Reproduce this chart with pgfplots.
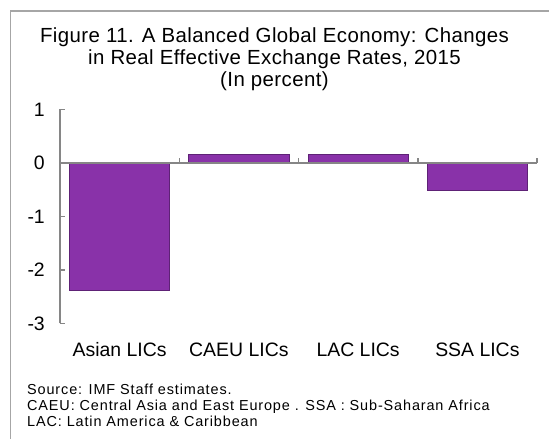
\documentclass[border=0pt]{standalone}
\usepackage{pgfplots}
\pgfplotsset{compat=1.18}
\usepackage{fontspec}
\setmainfont{Liberation Sans}
\newfontfamily\titlefont[LetterSpace=2]{Liberation Sans}
\newfontfamily\notefont[LetterSpace=6]{Liberation Sans}
\definecolor{barpurple}{HTML}{8932A9}
\definecolor{bardark}{HTML}{5E2276}
\definecolor{axgray}{HTML}{868686}
\definecolor{framegray}{HTML}{A6A6A6}
\begin{document}
\begin{tikzpicture}[x=1bp,y=1bp]
\useasboundingbox (0,0) rectangle (549,439);
\draw[framegray, line width=1.5bp] (10.5,-2) -- (10.5,428) -- (551,428);
\node[anchor=base] at (274.5,396) {\titlefont\fontsize{20.5}{20.5}\selectfont Figure 11. A Balanced Global Economy: Changes};
\node[anchor=base] at (274.5,374) {\titlefont\fontsize{20.5}{20.5}\selectfont in Real Effective Exchange Rates, 2015};
\node[anchor=base] at (274.5,352) {\titlefont\fontsize{20.5}{20.5}\selectfont (In percent)};
\node[anchor=base west, inner sep=0pt] at (27,44) {\notefont\fontsize{14.5}{14.5}\selectfont Source: IMF Staff estimates.};
\node[anchor=base west, inner sep=0pt] at (27,28) {\notefont\fontsize{14.5}{14.5}\selectfont CAEU: Central Asia and East Europe . SSA : Sub-Saharan  Africa};
\node[anchor=base west, inner sep=0pt] at (27,12) {\notefont\fontsize{14.5}{14.5}\selectfont LAC: Latin America \& Caribbean};
\begin{axis}[
  at={(60bp,115.5bp)}, anchor=south west,
  scale only axis, width=477bp, height=214bp,
  xmin=-0.5, xmax=3.5, ymin=-3, ymax=1,
  ytick={-3,-2,-1,0,1},
  xtick={0,1,2,3},
  xticklabels={Asian LICs, CAEU LICs, LAC LICs, SSA LICs},
  axis y line*=left, axis x line*=bottom,
  x axis line style={draw=none},
  y axis line style={axgray, line width=1.5bp},
  tick align=inside, major tick length=5bp,
  ytick style={axgray, line width=1.5bp},
  xtick style={draw=none},
  /pgf/number format/assume math mode=true,
  yticklabel style={anchor=east, inner sep=0pt, xshift=-15bp, font=\fontsize{19.5}{19.5}\selectfont},
  xticklabel style={anchor=base, inner sep=0pt, yshift=-33bp, font=\fontsize{19.5}{19.5}\selectfont},
  clip=false,
]
\addplot[ybar, bar width=0.84, fill=barpurple, draw=bardark, line width=0.8bp]
  coordinates {(0,-2.38) (1,0.16) (2,0.16) (3,-0.51)};
\draw[axgray, line width=1.5bp] (axis cs:-0.5,0) -- (axis cs:3.5,0);
\pgfplotsinvokeforeach{0.5,1.5,2.5,3.5}{
  \draw[axgray, line width=1.5bp] (axis cs:#1,0) -- ++(0pt,5bp);
}
\end{axis}
\end{tikzpicture}
\end{document}
